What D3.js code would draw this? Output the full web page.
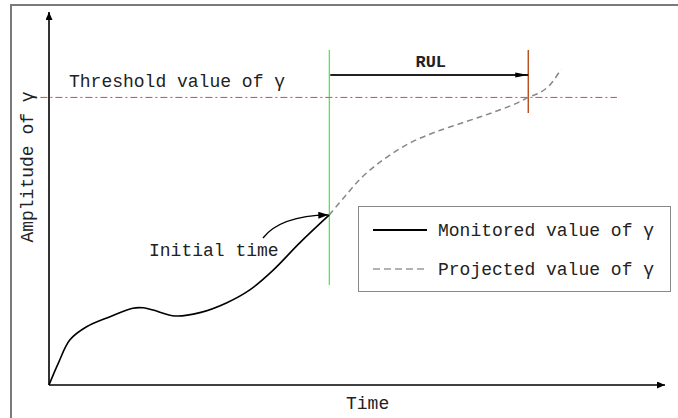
<!DOCTYPE html>
<html><head><meta charset="utf-8">
<script src="https://cdn.jsdelivr.net/npm/d3@7"></script>
<style>body{margin:0;background:#fff}svg{display:block}text{font-family:"Liberation Mono","Courier New",monospace;}</style>
</head><body><svg id="c" width="678" height="418"></svg>
<script>
// Data (time in arbitrary units 0..100, amplitude 0..100)
const monitoredT = [0, 1.5, 3.4, 6.1, 9.9, 13.6, 15.3, 16.9, 20.5, 24.5, 28.8, 32.6, 36.4, 40.7, 45.5];
const monitoredV = [0, 5.8, 12.1, 15.6, 18.3, 20.6, 20.7, 20.1, 18.5, 19.4, 22.0, 25.5, 30.8, 38.1, 45.6];
const projectedT = [45.5, 48.1, 50.5, 52.9, 55.4, 58.6, 62.7, 67.5, 71.6, 75.3, 78.1, 79.7, 81.3, 83.1];
const projectedV = [45.6, 50.7, 55.2, 58.7, 61.7, 64.9, 67.8, 70.5, 72.8, 75.1, 77.3, 78.4, 80.4, 84.6];
const thresholdV = 77.1;
const initialT = 45.5;
const eolT = 77.8;
const labels = {
  yAxis: "Amplitude of γ", xAxis: "Time", threshold: "Threshold value of γ",
  rul: "RUL", initial: "Initial time",
  legend: ["Monitored value of γ", "Projected value of γ"]
};

const svg = d3.select("#c");
const x = d3.scaleLinear().domain([0, 100]).range([49, 665]);
const y = d3.scaleLinear().domain([0, 100]).range([385, 12]);

const defs = svg.append("defs");
function marker(id, len, half) {
  defs.append("marker").attr("id", id).attr("viewBox", `0 ${-half} ${len} ${2*half}`)
    .attr("refX", len).attr("refY", 0).attr("markerUnits", "userSpaceOnUse")
    .attr("markerWidth", len).attr("markerHeight", 2*half).attr("orient", "auto")
    .append("path").attr("d", `M0,${-half}L${len},0L0,${half}Z`).attr("fill", "#000");
}
marker("axArrow", 8, 3.5);
marker("rulArrow", 13, 2.6);
marker("initArrow", 10, 3.5);

// outer frame
svg.append("rect").attr("x", 11).attr("y", 5).attr("width", 720).attr("height", 460)
  .attr("fill", "none").attr("stroke", "#7a7a7a").attr("stroke-width", 2);

// axes
svg.append("line").attr("x1", x(0)).attr("y1", y(0)).attr("x2", x(0)).attr("y2", y(100))
  .attr("stroke", "#000").attr("stroke-width", 1.6).attr("marker-end", "url(#axArrow)");
svg.append("line").attr("x1", x(0)).attr("y1", y(0)).attr("x2", x(100)).attr("y2", y(0))
  .attr("stroke", "#000").attr("stroke-width", 1.6).attr("marker-end", "url(#axArrow)");

// threshold
svg.append("line").attr("x1", x(-1.4)).attr("x2", x(92.2)).attr("y1", y(thresholdV)).attr("y2", y(thresholdV))
  .attr("stroke", "#e8403a").attr("stroke-width", 1).attr("stroke-dasharray", "7,3,2,3");
svg.append("text").attr("x", 69).attr("y", 87).attr("font-size", 18).attr("fill", "#222").text(labels.threshold);

// vertical lines
svg.append("line").attr("x1", x(initialT)).attr("x2", x(initialT)).attr("y1", 50).attr("y2", 285)
  .attr("stroke", "#22dd22").attr("stroke-width", 1);
svg.append("line").attr("x1", x(eolT)).attr("x2", x(eolT)).attr("y1", 50).attr("y2", 113)
  .attr("stroke", "#b23c00").attr("stroke-width", 1.3);

// RUL arrow
svg.append("line").attr("x1", x(initialT) + 1).attr("x2", x(eolT)).attr("y1", 75).attr("y2", 75)
  .attr("stroke", "#222").attr("stroke-width", 2).attr("marker-end", "url(#rulArrow)");
svg.append("text").attr("x", (x(initialT) + x(eolT)) / 2 + 2).attr("y", 67).attr("text-anchor", "middle")
  .attr("font-size", 17).attr("font-weight", "bold").attr("fill", "#222").text(labels.rul);

// curves
const line = d3.line().x(d => x(d[0])).y(d => y(d[1])).curve(d3.curveCatmullRom.alpha(0.5));
svg.append("path").datum(monitoredT.map((t, i) => [t, monitoredV[i]])).attr("d", line)
  .attr("fill", "none").attr("stroke", "#000").attr("stroke-width", 1.6);
svg.append("path").datum(projectedT.map((t, i) => [t, projectedV[i]])).attr("d", line)
  .attr("fill", "none").attr("stroke", "#888").attr("stroke-width", 1.5).attr("stroke-dasharray", "6,4");

// initial time annotation
const ex = x(initialT) - 1, ey = y(monitoredV[monitoredV.length - 1]);
svg.append("path").attr("d", `M263,238 Q280,216 ${ex},${ey}`)
  .attr("fill", "none").attr("stroke", "#000").attr("stroke-width", 1.3).attr("marker-end", "url(#initArrow)");
svg.append("text").attr("x", 149).attr("y", 256).attr("font-size", 18).attr("fill", "#222").text(labels.initial);

// axis titles
svg.append("text").attr("transform", "translate(33,167) rotate(-90)").attr("text-anchor", "middle")
  .attr("font-size", 18).attr("fill", "#222").text(labels.yAxis);
svg.append("text").attr("x", 346).attr("y", 409).attr("font-size", 18).attr("fill", "#222").text(labels.xAxis);

// legend
const lg = svg.append("g");
lg.append("rect").attr("x", 358.5).attr("y", 206.5).attr("width", 312).attr("height", 85)
  .attr("fill", "#fff").attr("stroke", "#888").attr("stroke-width", 1);
lg.append("line").attr("x1", 373).attr("x2", 427).attr("y1", 230).attr("y2", 230)
  .attr("stroke", "#000").attr("stroke-width", 2);
lg.append("line").attr("x1", 373).attr("x2", 427).attr("y1", 269).attr("y2", 269)
  .attr("stroke", "#999").attr("stroke-width", 1.5).attr("stroke-dasharray", "7,4");
lg.append("text").attr("x", 438).attr("y", 236).attr("font-size", 18).attr("fill", "#222").text(labels.legend[0]);
lg.append("text").attr("x", 438).attr("y", 275).attr("font-size", 18).attr("fill", "#222").text(labels.legend[1]);
</script></body></html>
